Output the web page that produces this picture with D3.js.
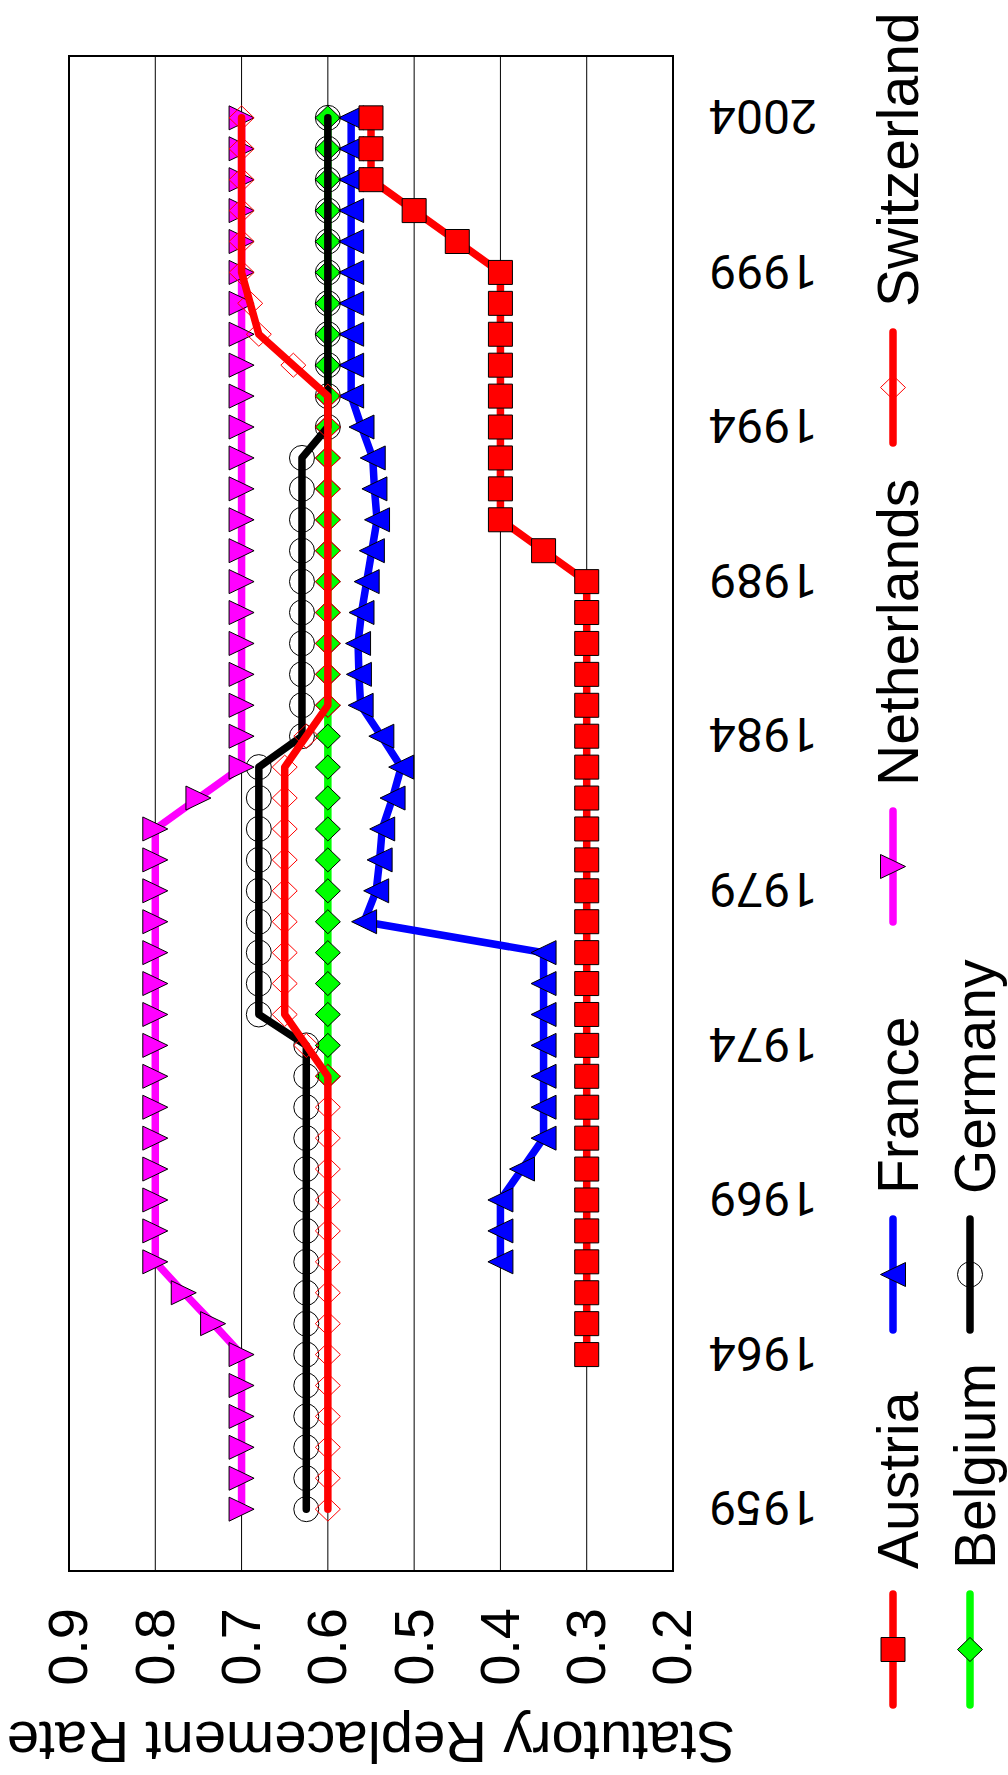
<!DOCTYPE html>
<html>
<head>
<meta charset="utf-8">
<script src="https://d3js.org/d3.v7.min.js"></script>
<style>
body { margin: 0; background: #fff; }
svg { display: block; font-family: "Liberation Sans", Arial, Helvetica, sans-serif; }
</style>
</head>
<body>
<svg id="chart" width="1008" height="1775"></svg>
<script>
// data (null = no value that year)
var years = [1959, 1960, 1961, 1962, 1963, 1964, 1965, 1966, 1967, 1968,
    1969, 1970, 1971, 1972, 1973, 1974, 1975, 1976, 1977, 1978,
    1979, 1980, 1981, 1982, 1983, 1984, 1985, 1986, 1987, 1988,
    1989, 1990, 1991, 1992, 1993, 1994, 1995, 1996, 1997, 1998,
    1999, 2000, 2001, 2002, 2003, 2004];
var yearTicks = [1959, 1964, 1969, 1974, 1979, 1984, 1989, 1994, 1999, 2004];
var rateTicks = [0.2, 0.3, 0.4, 0.5, 0.6, 0.7, 0.8, 0.9];

var austria = [null, null, null, null, null, 0.3, 0.3, 0.3, 0.3, 0.3,
    0.3, 0.3, 0.3, 0.3, 0.3, 0.3, 0.3, 0.3, 0.3, 0.3,
    0.3, 0.3, 0.3, 0.3, 0.3, 0.3, 0.3, 0.3, 0.3, 0.3,
    0.3, 0.35, 0.4, 0.4, 0.4, 0.4, 0.4, 0.4, 0.4, 0.4,
    0.4, 0.45, 0.5, 0.55, 0.55, 0.55];
var belgium = [null, null, null, null, null, null, null, null, null, null,
    null, null, null, null, 0.6, 0.6, 0.6, 0.6, 0.6, 0.6,
    0.6, 0.6, 0.6, 0.6, 0.6, 0.6, 0.6, 0.6, 0.6, 0.6,
    0.6, 0.6, 0.6, 0.6, 0.6, 0.6, 0.6, 0.6, 0.6, 0.6,
    0.6, 0.6, 0.6, 0.6, 0.6, 0.6];
var france = [null, null, null, null, null, null, null, null, 0.4, 0.4,
    0.4, 0.375, 0.35, 0.35, 0.35, 0.35, 0.35, 0.35, 0.35, 0.558,
    0.544, 0.54, 0.537, 0.525, 0.515, 0.538, 0.562, 0.564, 0.565, 0.561,
    0.555, 0.549, 0.543, 0.546, 0.548, 0.561, 0.573, 0.573, 0.573, 0.573,
    0.573, 0.573, 0.573, 0.573, 0.573, 0.573];
var germany = [0.625, 0.625, 0.625, 0.625, 0.625, 0.625, 0.625, 0.625, 0.625, 0.625,
    0.625, 0.625, 0.625, 0.625, 0.625, 0.625, 0.68, 0.68, 0.68, 0.68,
    0.68, 0.68, 0.68, 0.68, 0.68, 0.63, 0.63, 0.63, 0.63, 0.63,
    0.63, 0.63, 0.63, 0.63, 0.63, 0.6, 0.6, 0.6, 0.6, 0.6,
    0.6, 0.6, 0.6, 0.6, 0.6, 0.6];
var netherlands = [0.7, 0.7, 0.7, 0.7, 0.7, 0.7, 0.733, 0.767, 0.8, 0.8,
    0.8, 0.8, 0.8, 0.8, 0.8, 0.8, 0.8, 0.8, 0.8, 0.8,
    0.8, 0.8, 0.8, 0.75, 0.7, 0.7, 0.7, 0.7, 0.7, 0.7,
    0.7, 0.7, 0.7, 0.7, 0.7, 0.7, 0.7, 0.7, 0.7, 0.7,
    0.7, 0.7, 0.7, 0.7, 0.7, 0.7];
var switzerland = [0.6, 0.6, 0.6, 0.6, 0.6, 0.6, 0.6, 0.6, 0.6, 0.6,
    0.6, 0.6, 0.6, 0.6, 0.6, 0.625, 0.65, 0.65, 0.65, 0.65,
    0.65, 0.65, 0.65, 0.65, 0.65, 0.625, 0.6, 0.6, 0.6, 0.6,
    0.6, 0.6, 0.6, 0.6, 0.6, 0.6, 0.6, 0.64, 0.68, 0.69,
    0.7, 0.7, 0.7, 0.7, 0.7, 0.7];

var countries = ["Austria", "Belgium", "France", "Germany", "Netherlands", "Switzerland"];
var values = [austria, belgium, france, germany, netherlands, switzerland];

// styling per series
var lineColors = ["#ff0000", "#00ff00", "#0000ff", "#000000", "#ff00ff", "#ff0000"];
var markerTypes = ["square", "diamond", "triUp", "circle", "triDown", "diamond"];
var markerFills = ["#ff0000", "#00ff00", "#0000ff", "none", "#ff00ff", "none"];
var markerStrokes = ["#000", "#000", "#000", "#000", "#000", "#ff0000"];
// Austria sits on top of the others in the picture
var drawOrder = [1, 2, 3, 4, 5, 0];

// the chart is drawn landscape (1775 x 1008) and turned a quarter left
var W = 1775, H = 1008;
var svg = d3.select("#chart");
var g = svg.append("g").attr("transform", "translate(0," + W + ") rotate(-90)");

var x = d3.scaleLinear().domain([1957, 2006]).range([204, 1719]);
var y = d3.scaleLinear().domain([0.2, 0.9]).range([673, 69]);

// grid
g.append("g").selectAll("line")
    .data(rateTicks.slice(1, -1))
    .enter()
    .append("line")
    .attr("x1", x.range()[0])
    .attr("x2", x.range()[1])
    .attr("y1", function (d) { return y(d); })
    .attr("y2", function (d) { return y(d); })
    .attr("stroke", "#000")
    .attr("stroke-width", 1);

// y axis (rates)
var yAxis = g.append("g")
    .attr("transform", "translate(" + x.range()[0] + ",0)")
    .call(d3.axisLeft(y).tickValues(rateTicks).tickSize(0).tickPadding(37)
        .tickFormat(d3.format(".1f")));
yAxis.select(".domain").remove();
yAxis.attr("font-family", null);
yAxis.selectAll("text")
    .attr("font-size", 56)
    .style("font-family", "'Liberation Sans', Arial, sans-serif")
    .attr("fill", "#000");

// x axis (years), labels standing upright
var xAxis = g.append("g")
    .attr("transform", "translate(0," + y.range()[0] + ")")
    .call(d3.axisBottom(x).tickValues(yearTicks).tickSize(0).tickFormat(d3.format("d")));
xAxis.select(".domain").remove();
xAxis.selectAll("text")
    .attr("transform", "rotate(-90)")
    .attr("text-anchor", "end")
    .attr("x", -36)
    .attr("y", 0)
    .attr("dy", "0.36em")
    .attr("font-size", 48)
    .style("font-family", "Roboto, 'Liberation Sans', sans-serif")
    .attr("fill", "#000");

// axis title
g.append("text")
    .attr("transform", "translate(53," + ((y.range()[0] + y.range()[1]) / 2) + ") rotate(-90)")
    .attr("text-anchor", "middle")
    .attr("font-size", 58)
    .text("Statutory Replacement Rate");

function markerPath(type) {
    if (type === "square") return "M-12,-12H12V12H-12Z";
    if (type === "diamond") return "M0,-12.5L12,0L0,12.5L-12,0Z";
    if (type === "triUp") return "M0,-12.5L12,12.5L-12,12.5Z";
    if (type === "triDown") return "M-12,-12.5L12,-12.5L0,12.5Z";
    return "M-12.5,0A12.5,12.5 0 1,0 12.5,0A12.5,12.5 0 1,0 -12.5,0Z";
}

var line = d3.line()
    .defined(function (d) { return d.v !== null; })
    .x(function (d) { return x(d.year); })
    .y(function (d) { return y(d.v); });

var plot = g.append("g");
drawOrder.forEach(function (i) {
    var pts = years.map(function (yr, j) { return {year: yr, v: values[i][j]}; });
    var s = plot.append("g").attr("class", "series");
    s.append("path")
        .attr("d", line(pts))
        .attr("fill", "none")
        .attr("stroke", lineColors[i])
        .attr("stroke-width", 7.5)
        .attr("stroke-linejoin", "round")
        .attr("stroke-linecap", "round");
    s.selectAll("path.mark")
        .data(pts.filter(function (d) { return d.v !== null; }))
        .enter()
        .append("path")
        .attr("class", "mark")
        .attr("transform", function (d) { return "translate(" + x(d.year) + "," + y(d.v) + ")"; })
        .attr("d", markerPath(markerTypes[i]))
        .attr("fill", markerFills[i])
        .attr("stroke", markerStrokes[i])
        .attr("stroke-width", 1);
});

// frame
g.append("rect")
    .attr("x", x.range()[0])
    .attr("y", y.range()[1])
    .attr("width", x.range()[1] - x.range()[0])
    .attr("height", y.range()[0] - y.range()[1])
    .attr("fill", "none")
    .attr("stroke", "#000")
    .attr("stroke-width", 2);

// legend: columns of entries below the plot
var legendCols = [[0, 1], [2, 3], [4], [5]];
var legendColX = [70, 445, 853, 1332];
var legendRowY = [893, 970];
var legend = g.append("g");
legendCols.forEach(function (col, c) {
    col.forEach(function (i, r) {
        var lx = legendColX[c], ly = legendRowY[r];
        legend.append("line")
            .attr("x1", lx).attr("x2", lx + 111)
            .attr("y1", ly).attr("y2", ly)
            .attr("stroke", lineColors[i])
            .attr("stroke-width", 7.5)
            .attr("stroke-linecap", "round");
        legend.append("path")
            .attr("transform", "translate(" + (lx + 55.5) + "," + ly + ")")
            .attr("d", markerPath(markerTypes[i]))
            .attr("fill", markerFills[i])
            .attr("stroke", markerStrokes[i])
            .attr("stroke-width", 1);
        legend.append("text")
            .attr("x", lx + 136)
            .attr("y", ly)
            .attr("dy", "0.44em")
            .attr("font-size", 57)
            .text(countries[i]);
    });
});
</script>
</body>
</html>
